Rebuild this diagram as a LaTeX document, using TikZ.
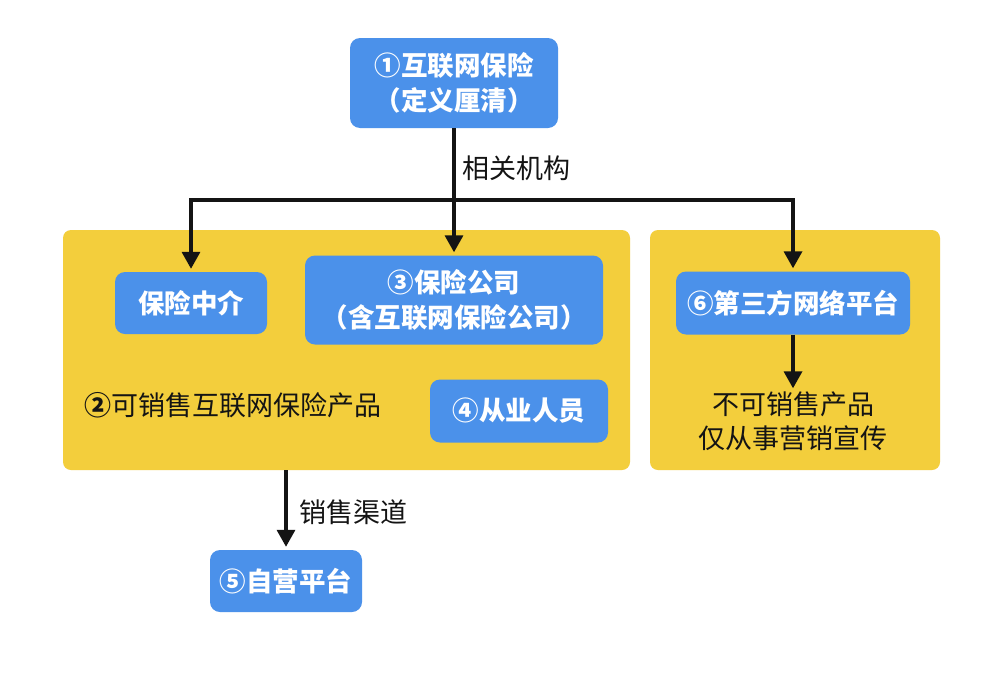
\documentclass[tikz,border=0pt]{standalone}
\usepackage{fontspec}
\usetikzlibrary{arrows.meta}
\setmainfont{Noto Sans CJK SC}
\definecolor{boxblue}{HTML}{4B91EA}
\definecolor{panelyellow}{HTML}{F3CE3C}
\definecolor{ink}{HTML}{141414}
\tikzset{
  bluebox/.style={rounded corners=10pt, fill=boxblue, text=white, align=center,
    font=\fontsize{26.5}{35}\selectfont\bfseries, inner sep=0pt},
  panel/.style={rounded corners=8pt, fill=panelyellow, inner sep=0pt},
  plain/.style={text=ink, align=center, font=\fontsize{27}{34}\selectfont, inner sep=0pt},
  conn/.style={line width=3.4pt, ink},
  arr/.style={conn, -{Triangle[length=17pt,width=18pt]}, shorten >=3pt}
}
\begin{document}
\begin{tikzpicture}[x=1pt,y=-1pt]
\useasboundingbox (0,0) rectangle (1000,688);
\fill[white] (0,0) rectangle (1000,688);
% panels
\node[panel, minimum width=567pt, minimum height=240pt] (lp) at (346.5,350) {};
\node[panel, minimum width=290pt, minimum height=240pt] (rp) at (795,350) {};
% boxes
\node[bluebox, minimum width=208pt, minimum height=90pt] (top) at (454,83) {①互联网保险\\（定义厘清）};
\node[bluebox, minimum width=152pt, minimum height=62pt] (bzj) at (191,303) {保险中介};
\node[bluebox, minimum width=298pt, minimum height=89pt] (bx) at (454,300) {③保险公司\\（含互联网保险公司）};
\node[bluebox, minimum width=178pt, minimum height=63pt] (cy) at (519,411) {④从业人员};
\node[bluebox, minimum width=234pt, minimum height=63pt] (dsf) at (793,303) {⑥第三方网络平台};
\node[bluebox, minimum width=152pt, minimum height=62pt] (zy) at (286,581) {⑤自营平台};
% texts
\node[plain, anchor=west] (kx) at (84,405) {{\bfseries ②}可销售互联网保险产品};
\node[plain] (bk) at (793,421) {不可销售产品\\仅从事营销宣传};
\node[plain, anchor=west] (xg) at (462,168) {相关机构};
\node[plain, anchor=west] (xs) at (299,512) {销售渠道};
% connectors
\coordinate (j) at (454,200);
\draw[conn] (top.south) -- (j);
\draw[arr] (j) -| (bzj.north);
\draw[arr] (j) -| (dsf.north);
\draw[arr] (j) -- (bx.north);
\draw[arr] (dsf.south) -- (bk.north);
\draw[arr] (lp.south -| zy.north) -- (zy.north);
\end{tikzpicture}
\end{document}
